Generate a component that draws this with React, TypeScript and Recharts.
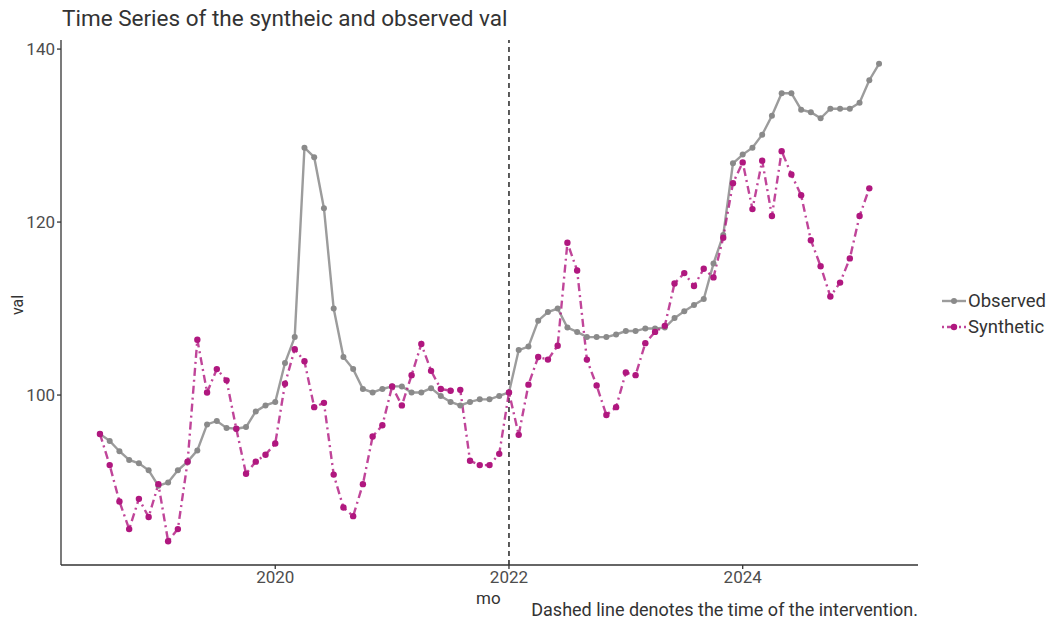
import React from "react";
import {
  LineChart,
  Line,
  XAxis,
  YAxis,
  ReferenceLine,
} from "recharts";

const months = [
  "2018-07", "2018-08", "2018-09", "2018-10", "2018-11", "2018-12",
  "2019-01", "2019-02", "2019-03", "2019-04", "2019-05", "2019-06",
  "2019-07", "2019-08", "2019-09", "2019-10", "2019-11", "2019-12",
  "2020-01", "2020-02", "2020-03", "2020-04", "2020-05", "2020-06",
  "2020-07", "2020-08", "2020-09", "2020-10", "2020-11", "2020-12",
  "2021-01", "2021-02", "2021-03", "2021-04", "2021-05", "2021-06",
  "2021-07", "2021-08", "2021-09", "2021-10", "2021-11", "2021-12",
  "2022-01", "2022-02", "2022-03", "2022-04", "2022-05", "2022-06",
  "2022-07", "2022-08", "2022-09", "2022-10", "2022-11", "2022-12",
  "2023-01", "2023-02", "2023-03", "2023-04", "2023-05", "2023-06",
  "2023-07", "2023-08", "2023-09", "2023-10", "2023-11", "2023-12",
  "2024-01", "2024-02", "2024-03", "2024-04", "2024-05", "2024-06",
  "2024-07", "2024-08", "2024-09", "2024-10", "2024-11", "2024-12",
  "2025-01", "2025-02", "2025-03",
];

const observed = [
  95.5, 94.7, 93.5, 92.5, 92.1, 91.3, 89.5, 89.9, 91.3, 92.3, 93.6, 96.6,
  97.0, 96.2, 96.1, 96.3, 98.1, 98.8, 99.2, 103.7, 106.7, 128.6, 127.5, 121.6,
  110.0, 104.4, 103.0, 100.7, 100.3, 100.7, 101.0, 101.0, 100.3, 100.3, 100.8, 99.9,
  99.2, 98.8, 99.2, 99.5, 99.5, 99.9, 100.3, 105.2, 105.6, 108.6, 109.6, 110.0,
  107.8, 107.3, 106.7, 106.7, 106.7, 107.0, 107.4, 107.4, 107.7, 107.7, 107.8, 108.9,
  109.7, 110.4, 111.1, 115.2, 118.5, 126.8, 127.8, 128.6, 130.1, 132.3, 134.9, 134.9,
  133.0, 132.7, 132.0, 133.1, 133.1, 133.1, 133.8, 136.4, 138.3,
];

const synthetic = [
  95.5, 91.9, 87.7, 84.5, 88.0, 85.9, 89.7, 83.1, 84.5, 92.3, 106.4, 100.3,
  103.0, 101.7, 96.1, 90.9, 92.3, 93.1, 94.4, 101.3, 105.3, 103.9, 98.6, 99.1,
  90.8, 87.0, 86.0, 89.7, 95.2, 96.5, 101.0, 98.8, 102.3, 105.9, 102.8, 100.7,
  100.5, 100.6, 92.4, 91.9, 91.9, 93.2, 100.3, 95.4, 101.2, 104.4, 104.1, 105.7,
  117.6, 114.4, 104.1, 101.1, 97.7, 98.6, 102.6, 102.3, 106.0, 107.3, 108.0, 112.9,
  114.1, 112.6, 114.6, 113.6, 118.2, 124.5, 126.9, 121.5, 127.1, 120.7, 128.2, 125.5,
  123.1, 117.9, 114.9, 111.4, 113.0, 115.8, 120.7, 123.9,
];

const xTicks = [2020, 2022, 2024];
const yTicks = [100, 120, 140];
const intervention = 2022;

const rows = months.map((m, i) => {
  const [y, mo] = m.split("-").map(Number);
  return {
    t: y + (mo - 1) / 12,
    observed: observed[i],
    synthetic: synthetic[i],
  };
});

const FONT = "Roboto, 'DejaVu Sans', sans-serif";
const GREY = "#9c9c9c";
const GREY_DOT = "#8a8a8a";
const MAGENTA = "#b0177f";
const SYN_DASH = "8 4 2 4";

const txt: React.CSSProperties = {
  position: "absolute",
  fontFamily: FONT,
  color: "#333",
  whiteSpace: "nowrap",
  lineHeight: 1,
};

export default function App() {
  return (
    <div
      style={{
        position: "absolute",
        left: 0,
        top: 0,
        width: 1047,
        height: 624,
        background: "#fff",
      }}
    >
      <LineChart
        width={1047}
        height={624}
        data={rows}
        margin={{ top: 40, right: 129, bottom: 0, left: 0 }}
      >
        <XAxis
          type="number"
          dataKey="t"
          domain={[2018.1667, 2025.5]}
          ticks={xTicks}
          allowDataOverflow
          height={59}
          stroke="#333"
          strokeWidth={1.3}
          tickSize={4}
          tick={{ fill: "#4d4d4d", fontSize: 17, fontFamily: FONT }}
        />
        <YAxis
          type="number"
          domain={[80.35, 141.05]}
          ticks={yTicks}
          allowDataOverflow
          width={61}
          stroke="#333"
          strokeWidth={1.3}
          tickSize={4}
          tick={{ fill: "#4d4d4d", fontSize: 17, fontFamily: FONT }}
        />
        <ReferenceLine
          x={intervention}
          stroke="#333"
          strokeWidth={1.6}
          strokeDasharray="5 4"
        />
        <Line
          type="linear"
          dataKey="observed"
          stroke={GREY}
          strokeWidth={2.4}
          dot={{ r: 3, fill: GREY_DOT, stroke: "none" }}
          isAnimationActive={false}
        />
        <Line
          type="linear"
          dataKey="synthetic"
          stroke={MAGENTA}
          strokeOpacity={0.8}
          strokeWidth={2.4}
          strokeDasharray={SYN_DASH}
          dot={{ r: 3.2, fill: MAGENTA, stroke: "none", strokeDasharray: "" }}
          isAnimationActive={false}
        />
      </LineChart>

      <div style={{ ...txt, left: 62, top: 7, fontSize: 22.5 }}>
        Time Series of the syntheic and observed val
      </div>
      <div
        style={{
          ...txt,
          left: 8,
          top: 305,
          fontSize: 16,
          transform: "translate(-50%, -50%) rotate(-90deg)",
          transformOrigin: "center",
          marginLeft: 10,
        }}
      >
        val
      </div>
      <div style={{ ...txt, left: 476, top: 590, fontSize: 17 }}>mo</div>
      <div style={{ ...txt, right: 1047 - 918, top: 601, fontSize: 18 }}>
        Dashed line denotes the time of the intervention.
      </div>

      <svg
        style={{ position: "absolute", left: 940, top: 290 }}
        width={30}
        height={50}
      >
        <line x1={2} y1={11} x2={26} y2={11} stroke={GREY} strokeWidth={2.4} />
        <circle cx={14} cy={11} r={3} fill={GREY_DOT} />
        <line
          x1={2}
          y1={37}
          x2={26}
          y2={37}
          stroke={MAGENTA}
          strokeOpacity={0.8}
          strokeWidth={2.4}
          strokeDasharray="2 3 8 4"
        />
        <circle cx={14} cy={37} r={3.2} fill={MAGENTA} />
      </svg>
      <div style={{ ...txt, left: 968, top: 292, fontSize: 18.5 }}>Observed</div>
      <div style={{ ...txt, left: 968, top: 318, fontSize: 18.5 }}>Synthetic</div>
    </div>
  );
}
